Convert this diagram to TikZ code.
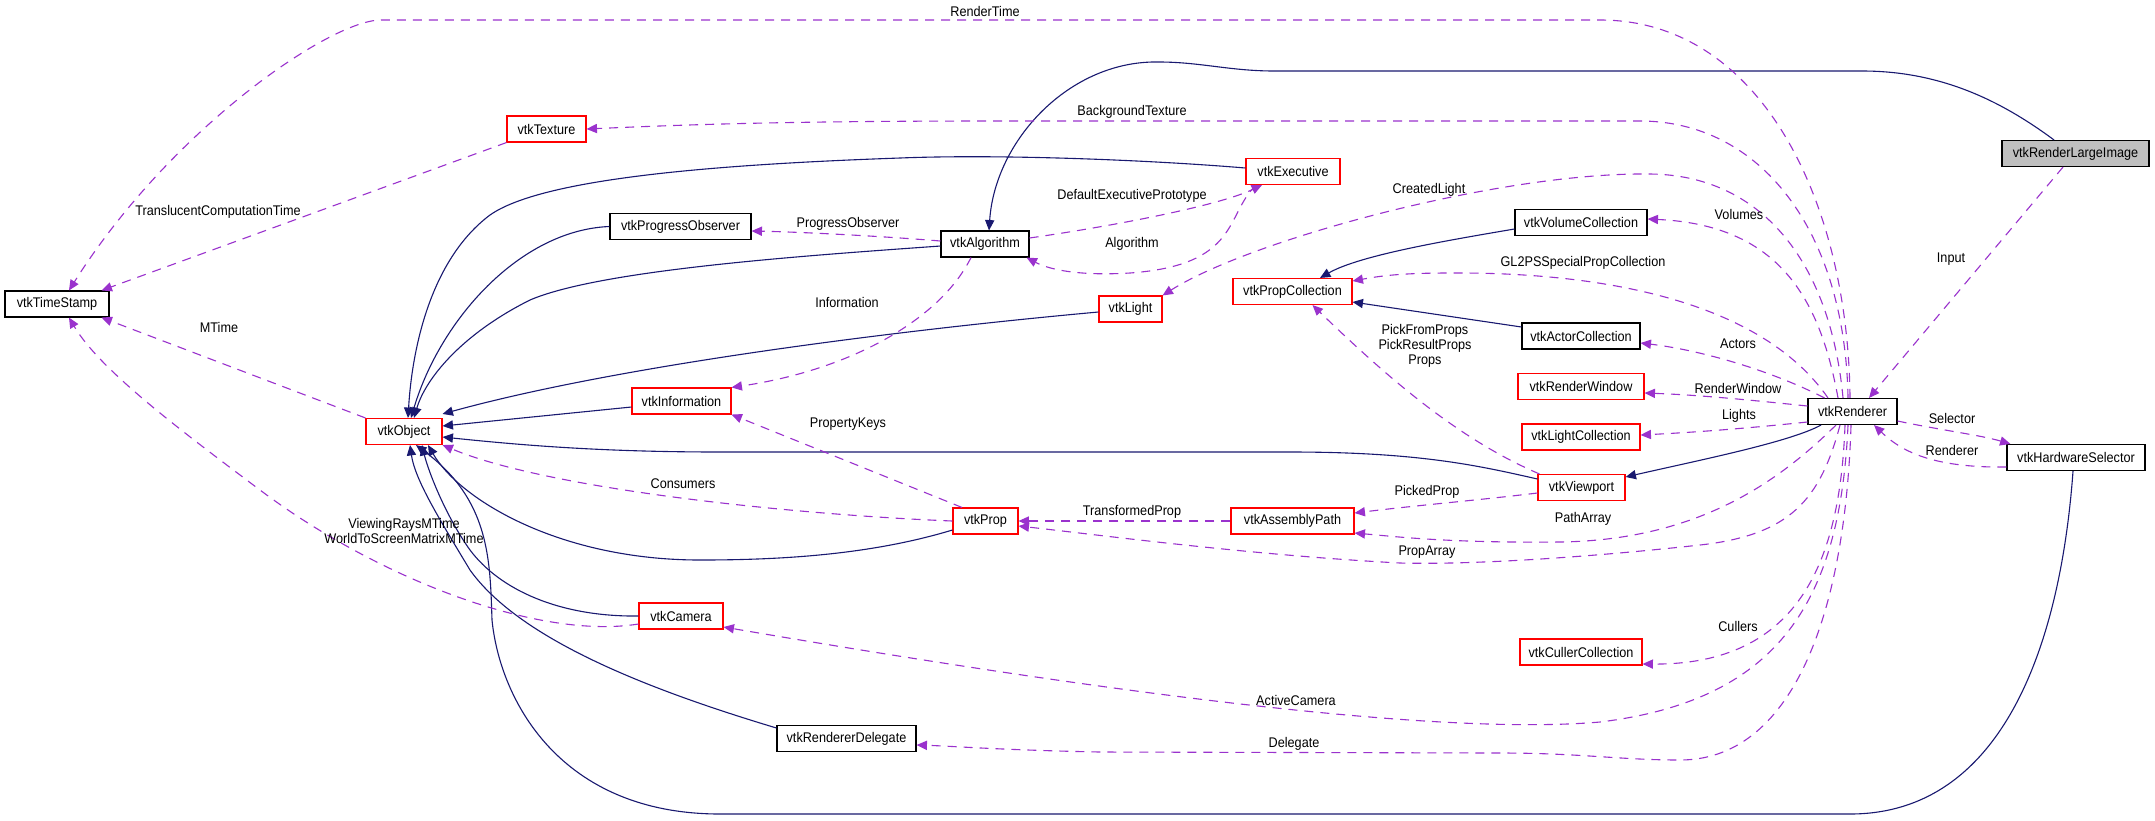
\documentclass[tikz,border=0pt]{standalone}
\usepackage{fontspec}
\setmainfont{Liberation Sans}[FakeStretch=0.905]
\usetikzlibrary{arrows.meta}
\definecolor{inhblue}{HTML}{191970}
\definecolor{usepurple}{HTML}{9A32CD}
\newcommand\lbl{\fontsize{7pt}{7.35pt}\selectfont}
\tikzset{
  cls/.style={draw=black, fill=white, line width=0.55pt, minimum height=13pt, inner sep=0pt, font=\lbl},
  redcls/.style={cls, draw=red},
  topcls/.style={cls, fill=black!25},
  inh/.style={draw=inhblue, line width=0.55pt, -{Triangle[length=5.2pt,width=4.6pt]}},
  use/.style={draw=usepurple, line width=0.55pt, dash pattern=on 4.5pt off 3.5pt, -{Triangle[length=5.2pt,width=4.6pt]}},
  elab/.style={font=\lbl, inner sep=0pt, align=center}
}
\begin{document}
\begin{tikzpicture}[x=0.5pt,y=-0.5pt]
\path[use as bounding box, fill=white] (0,0) rectangle (2155,820);
% nodes
\node[cls, minimum width=52pt] (ts) at (57,304) {vtkTimeStamp};
\node[redcls, minimum width=39.5pt] (tex) at (546.5,129) {vtkTexture};
\node[cls, minimum width=70.5pt] (po) at (680.5,226.5) {vtkProgressObserver};
\node[redcls, minimum width=49.5pt] (info) at (681.5,401) {vtkInformation};
\node[redcls, minimum width=38pt] (obj) at (404,431.5) {vtkObject};
\node[redcls, minimum width=42pt] (cam) at (681,616) {vtkCamera};
\node[redcls, minimum width=32.5pt] (prop) at (985.5,521) {vtkProp};
\node[redcls, minimum width=61.5pt] (ap) at (1292.5,521) {vtkAssemblyPath};
\node[cls, minimum width=69.5pt] (rd) at (846.5,738.5) {vtkRendererDelegate};
\node[cls, minimum width=44pt] (alg) at (985,244) {vtkAlgorithm};
\node[redcls, minimum width=47pt] (exe) at (1293,171.5) {vtkExecutive};
\node[redcls, minimum width=31.5pt] (light) at (1130.5,309) {vtkLight};
\node[redcls, minimum width=59.5pt] (pc) at (1292.5,291.5) {vtkPropCollection};
\node[cls, minimum width=66pt] (vc) at (1581,222.5) {vtkVolumeCollection};
\node[cls, minimum width=59pt] (ac) at (1581,336) {vtkActorCollection};
\node[redcls, minimum width=63pt] (rw) at (1581,386.5) {vtkRenderWindow};
\node[cls, minimum width=44.5pt] (ren) at (1852.5,411.5) {vtkRenderer};
\node[topcls, minimum width=73.5pt] (rli) at (2075.5,153.5) {vtkRenderLargeImage};
\node[redcls, minimum width=59pt] (lc) at (1581,437) {vtkLightCollection};
\node[redcls, minimum width=43.5pt] (vp) at (1581.5,487.5) {vtkViewport};
\node[cls, minimum width=69pt] (hs) at (2076,457.5) {vtkHardwareSelector};
\node[redcls, minimum width=61pt] (cc) at (1581,652) {vtkCullerCollection};
% inheritance edges
\draw[inh] ([xshift=-10.75pt]rli.north) .. controls (2000,100) and (1940,71) .. (1862,71) -- (1274,71) .. controls (1230,71) and (1200,62) .. (1159,62) .. controls (1070,60) and (995,140) .. ([xshift=2pt]alg.north);
\draw[inh] ([yshift=1.75pt]exe.west) .. controls (1150,160) and (1000,154) .. (900,158) .. controls (700,165) and (540,180) .. (490,215) .. controls (430,260) and (412,350) .. ([xshift=2pt]obj.north);
\draw[inh] (po.west) .. controls (520,230) and (440,320) .. ([xshift=3.5pt]obj.north);
\draw[inh] ([yshift=-1pt]alg.west) .. controls (800,256) and (600,270) .. (530,300) .. controls (460,335) and (425,380) .. ([xshift=5pt]obj.north);
\draw[inh] ([yshift=-1.5pt]light.west) .. controls (900,330) and (620,365) .. ([yshift=2pt]obj.north east);
\draw[inh] ([yshift=-3pt]info.west) -- ([yshift=2.75pt]obj.east);
\draw[inh] ([yshift=4.25pt]vp.west) .. controls (1480,466) and (1420,452) .. (1290,452) -- (720,452) .. controls (600,452) and (520,445) .. ([yshift=-2.75pt]obj.east);
\draw[inh] ([yshift=-4.5pt]prop.west) .. controls (870,555) and (780,560) .. (700,560) .. controls (560,560) and (460,500) .. ([xshift=12pt]obj.south);
\draw[inh] (cam.west) .. controls (560,617) and (500,590) .. (470,550) .. controls (445,515) and (428,470) .. ([xshift=9pt]obj.south);
\draw[inh] ([yshift=5.25pt]rd.west) .. controls (650,690) and (520,640) .. (470,570) .. controls (440,520) and (415,480) .. ([xshift=3pt]obj.south);
\draw[inh] ([xshift=-1.5pt]hs.south) .. controls (2060,650) and (2000,814) .. (1850,814) -- (720,814) .. controls (560,814) and (500,700) .. (492,620) .. controls (490,560) and (490,500) .. ([xshift=6pt]obj.south);
\draw[inh] ([yshift=-3.25pt]vc.west) .. controls (1450,240) and (1360,255) .. ([xshift=13.75pt]pc.north);
\draw[inh] ([yshift=4.5pt]ac.west) -- ([yshift=-5.25pt]pc.east);
\draw[inh] ([xshift=-15.75pt]ren.south) .. controls (1790,442) and (1700,460) .. ([yshift=5.25pt]vp.east);
% usage edges
\draw[use] ([xshift=-1.25pt]ren.north) .. controls (1848,200) and (1760,20) .. (1600,20) -- (381,20) .. controls (330,20) and (170,130) .. ([xshift=6pt]ts.north);
\draw[use] ([xshift=-2.25pt]ren.north) .. controls (1845,230) and (1760,121) .. (1640,121) -- (1000,121) .. controls (800,121) and (700,124) .. (tex.east);
\draw[use] ([xshift=-4.75pt]ren.north) .. controls (1830,260) and (1760,175) .. (1650,174) .. controls (1500,172) and (1250,240) .. (light.north east);
\draw[use] ([xshift=-7.25pt]ren.north) .. controls (1820,300) and (1780,225) .. ([yshift=1.75pt]vc.east);
\draw[use] ([xshift=-12.25pt]ren.north) .. controls (1760,300) and (1600,272) .. (1450,273) .. controls (1400,273) and (1380,276) .. ([yshift=5.25pt]pc.east);
\draw[use] ([xshift=-14pt]ren.north) .. controls (1770,370) and (1700,350) .. ([yshift=-3.5pt]ac.east);
\draw[use] ([yshift=2.75pt]ren.west) .. controls (1750,400) and (1700,395) .. ([yshift=-3.25pt]rw.east);
\draw[use] ([yshift=-5.25pt]ren.west) .. controls (1750,428) and (1700,432) .. ([yshift=1pt]lc.east);
\draw[use] ([yshift=-4.75pt]ren.east) .. controls (1940,430) and (1980,435) .. ([xshift=2pt]hs.north west);
\draw[use] ([yshift=-4.75pt]hs.west) .. controls (1930,468) and (1900,450) .. ([xshift=10.75pt]ren.south);
\draw[use] ([xshift=-6.25pt]rli.south) -- ([xshift=8.25pt]ren.north);
\draw[use] ([xshift=-8.25pt]ren.south) .. controls (1780,480) and (1700,540) .. (1560,542) .. controls (1450,543) and (1400,537) .. ([yshift=-6pt]ap.east);
\draw[use] ([xshift=-6.25pt]ren.south) .. controls (1820,500) and (1790,535) .. (1700,545) .. controls (1600,556) and (1480,565) .. (1400,563) .. controls (1250,555) and (1100,535) .. ([yshift=-2.5pt]prop.east);
\draw[use] ([xshift=-3.75pt]ren.south) .. controls (1840,560) and (1800,665) .. ([yshift=-6pt]cc.east);
\draw[use] ([xshift=-2.25pt]ren.south) .. controls (1840,600) and (1780,700) .. (1600,722) .. controls (1450,735) and (1150,700) .. ([yshift=-5.5pt]cam.east);
\draw[use] ([xshift=-0.75pt]ren.south) .. controls (1845,620) and (1790,760) .. (1680,760) .. controls (1620,760) and (1580,753) .. (1500,753) -- (1100,752) .. controls (1000,750) and (950,746) .. ([yshift=-3.25pt]rd.east);
\draw[use] ([yshift=-2.75pt]vp.west) .. controls (1480,500) and (1420,505) .. ([yshift=4pt]ap.east);
\draw[use] ([xshift=1pt]vp.north west) .. controls (1460,440) and (1390,380) .. ([xshift=10pt]pc.south);
\draw[use] (ap.west) -- (prop.east);
\draw[use] (prop.west) .. controls (800,515) and (550,490) .. (obj.south east);
\draw[use] ([xshift=-11.75pt]prop.north) -- (info.south east);
\draw[use] ([xshift=-7pt]alg.south) .. controls (940,320) and (850,370) .. (info.north east);
\draw[use] ([yshift=1.5pt]alg.west) .. controls (880,236) and (800,232) .. ([yshift=-2.25pt]po.east);
\draw[use] ([yshift=3pt]alg.east) .. controls (1120,225) and (1220,205) .. ([xshift=-15.5pt]exe.south);
\draw[use] ([xshift=-18.5pt]exe.south) .. controls (1225,215) and (1240,265) .. (1130,273) .. controls (1080,276) and (1050,270) .. ([xshift=-1.5pt]alg.south east);
\draw[use] (tex.south west) -- ([xshift=-4pt]ts.north east);
\draw[use] (obj.north west) -- ([xshift=-4pt]ts.south east);
\draw[use] ([yshift=-4pt]cam.west) .. controls (540,640) and (380,580) .. (260,490) .. controls (180,430) and (100,370) .. ([xshift=6pt]ts.south);
% edge labels
\node[elab] (l1) at (985,11) {RenderTime};
\node[elab] (l2) at (1132,112) {BackgroundTexture};
\node[elab] (l3) at (1429,190) {CreatedLight};
\node[elab] (l4) at (1739,214) {Volumes};
\node[elab] (l5) at (1583,263) {GL2PSSpecialPropCollection};
\node[elab] (l6) at (1738,344) {Actors};
\node[elab] (l7) at (1738,388) {RenderWindow};
\node[elab] (l8) at (1739,416) {Lights};
\node[elab] (l9) at (1952,418) {Selector};
\node[elab] (l10) at (1952,450) {Renderer};
\node[elab] (l11) at (1951,259) {Input};
\node[elab] (l12) at (1583,519) {PathArray};
\node[elab] (l13) at (1427,552) {PropArray};
\node[elab] (l14) at (1738,626) {Cullers};
\node[elab] (l15) at (1296,700) {ActiveCamera};
\node[elab] (l16) at (1294,744) {Delegate};
\node[elab] (l17) at (1427,492) {PickedProp};
\node[elab] (l18) at (1425,346) {PickFromProps\\PickResultProps\\Props};
\node[elab] (l19) at (1132,512) {TransformedProp};
\node[elab] (l20) at (683,484) {Consumers};
\node[elab] (l21) at (848,424) {PropertyKeys};
\node[elab] (l22) at (847,302) {Information};
\node[elab] (l23) at (848,224) {ProgressObserver};
\node[elab] (l24) at (1132,196) {DefaultExecutivePrototype};
\node[elab] (l25) at (1132,244) {Algorithm};
\node[elab] (l26) at (218,212) {TranslucentComputationTime};
\node[elab] (l27) at (219,327) {MTime};
\node[elab] (l28) at (404,531) {ViewingRaysMTime\\WorldToScreenMatrixMTime};
\end{tikzpicture}
\end{document}
